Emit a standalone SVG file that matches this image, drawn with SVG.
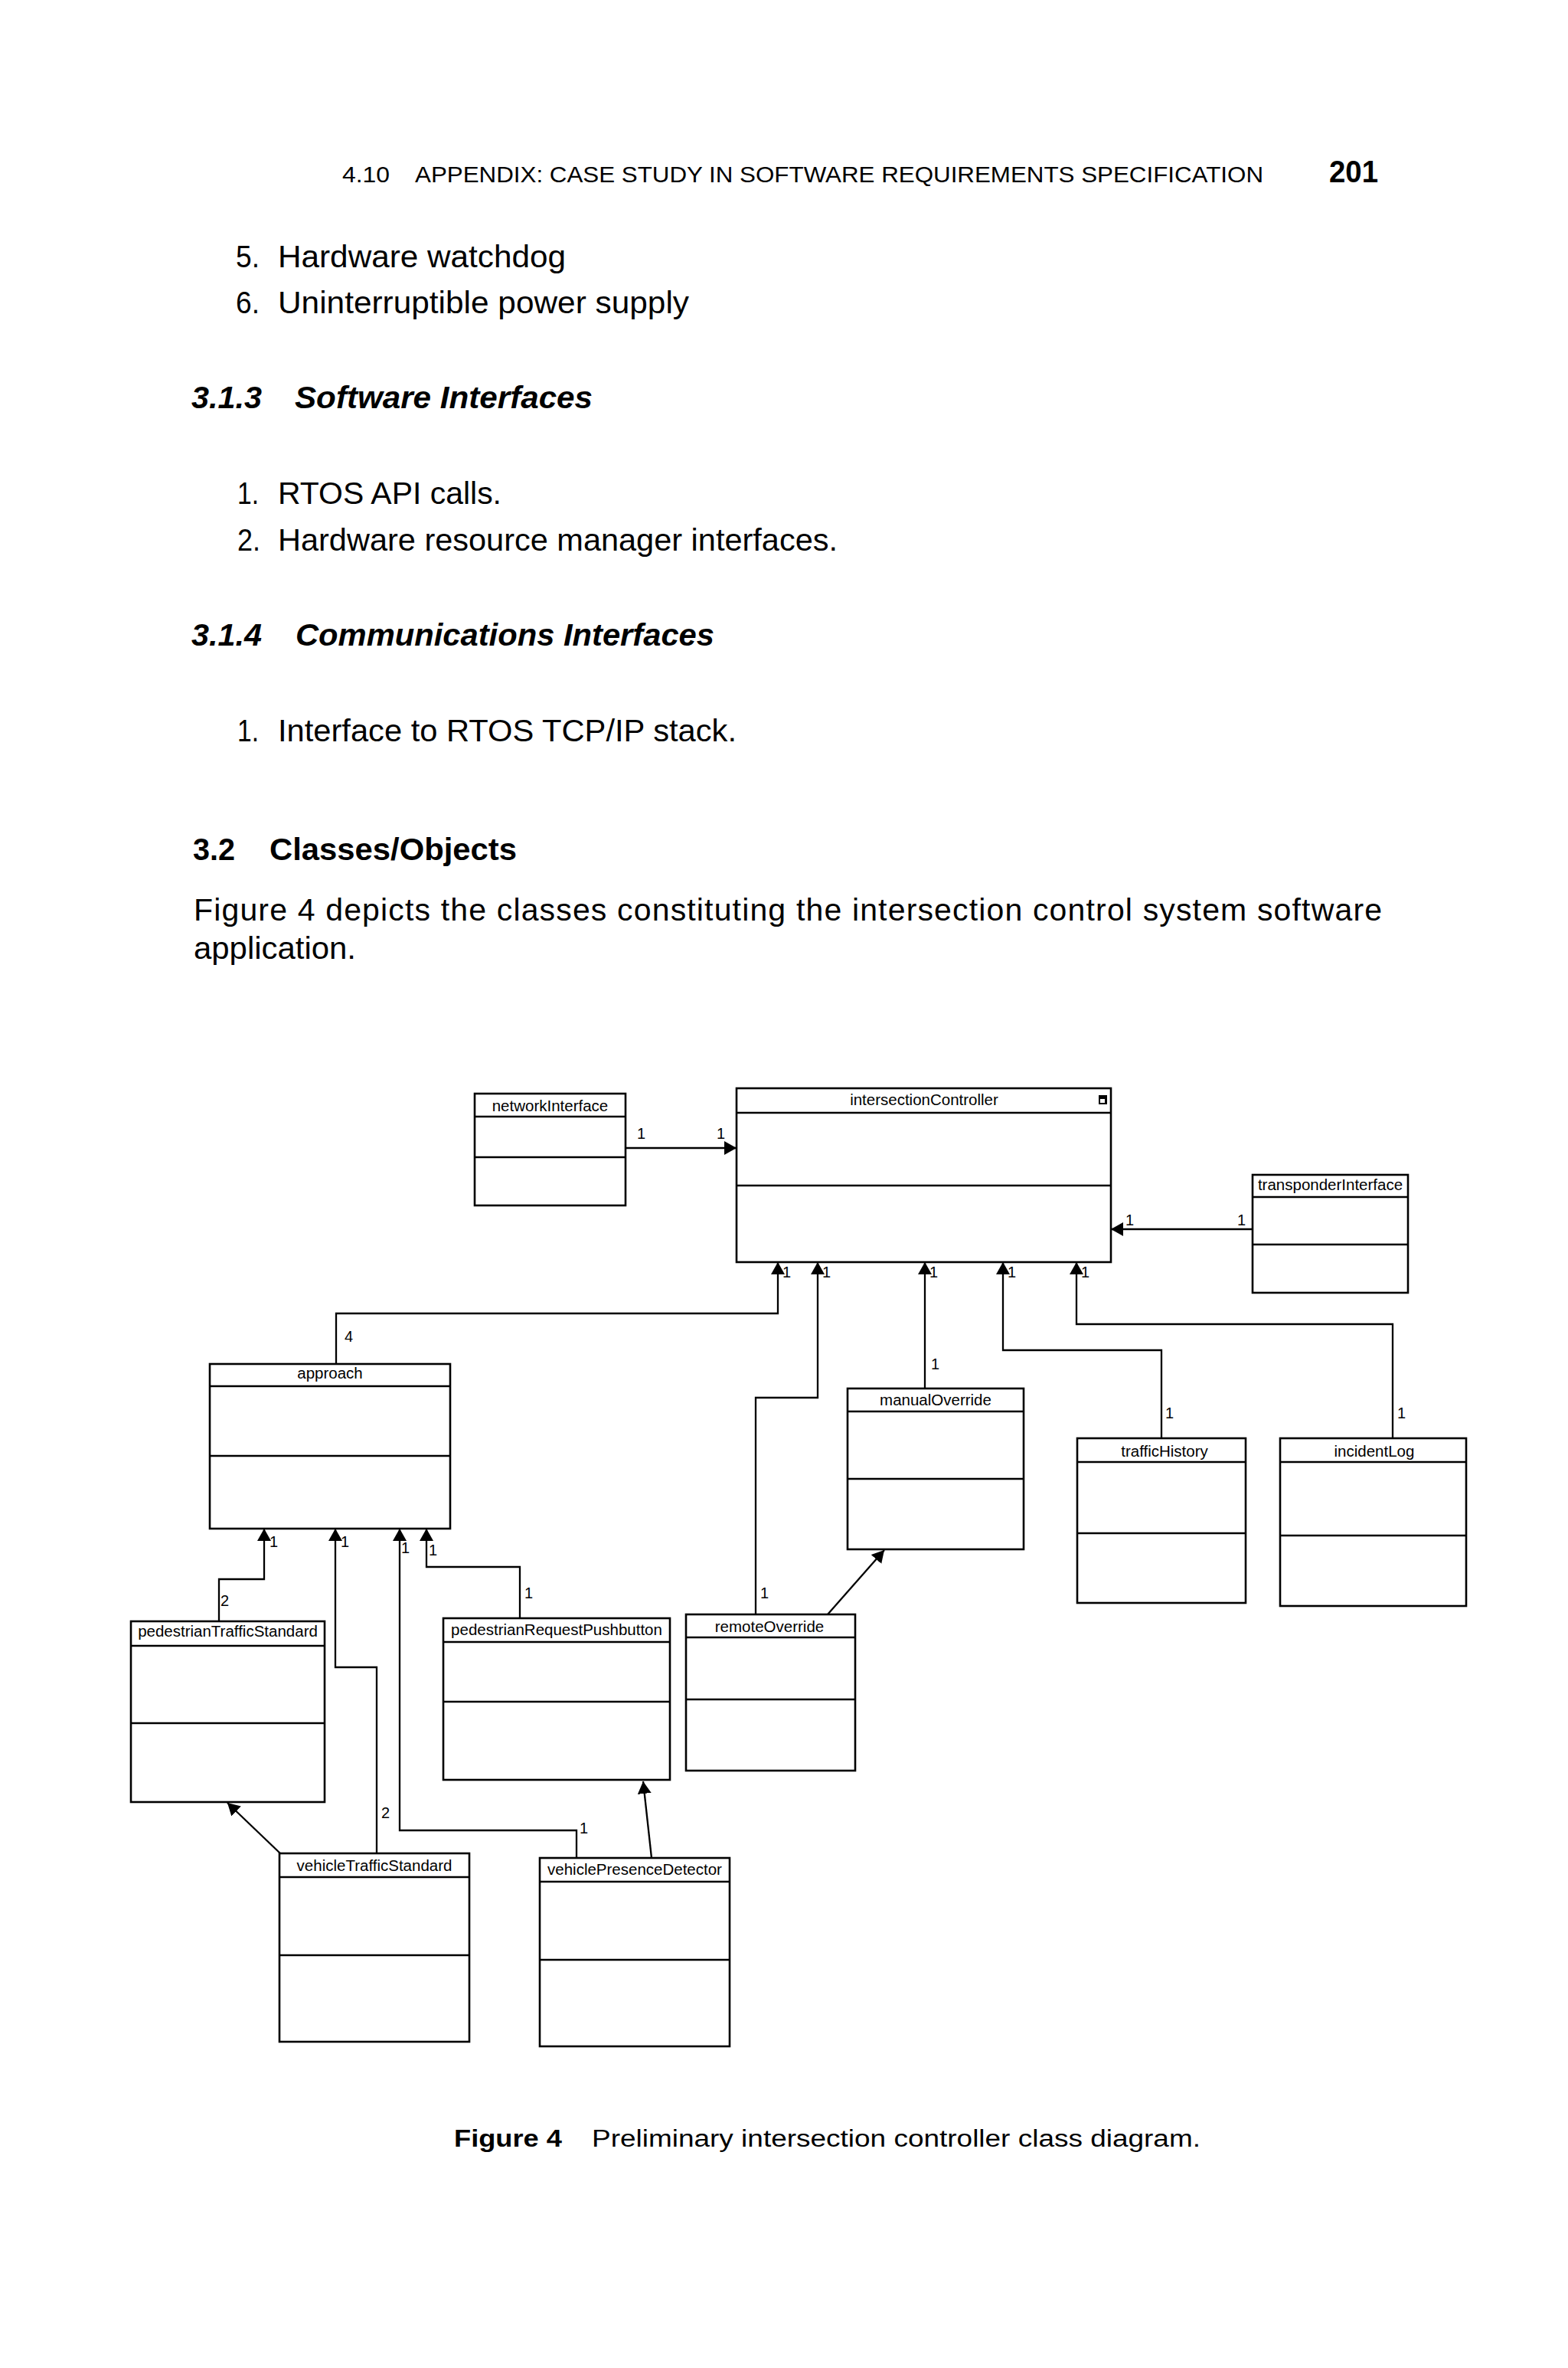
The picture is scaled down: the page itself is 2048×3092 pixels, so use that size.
<svg xmlns="http://www.w3.org/2000/svg" width="2048" height="3092" viewBox="0 0 2048 3092">
<style>
text{font-family:"Liberation Sans",Arial,Helvetica,sans-serif;fill:#000}
.box{fill:#fff;stroke:#000;stroke-width:2.6}
.div{stroke:#000;stroke-width:2.6}
.cn{font-size:20.5px;text-anchor:middle}
.m{font-size:20px}
.conn path{fill:none;stroke:#000;stroke-width:2.3}
.body{font-size:41px}
.hd{font-size:40px;font-weight:bold;font-style:italic}
.hb{font-size:40px;font-weight:bold}
.rh{font-size:30px}
.pg{font-size:40px;font-weight:bold}
.cap{font-size:31px}
</style>
<defs>
<marker id="arr" markerUnits="userSpaceOnUse" markerWidth="18" markerHeight="20" refX="16" refY="9" orient="auto">
<path d="M0,0 L16,9 L0,18 Z" fill="#000"/>
</marker>
</defs>
<rect width="2048" height="3092" fill="#fff"/>

<g id="page-text">
<text class="rh" x="447" y="238" textLength="62" lengthAdjust="spacingAndGlyphs">4.10</text>
<text class="rh" x="542" y="238" textLength="1108" lengthAdjust="spacingAndGlyphs">APPENDIX: CASE STUDY IN SOFTWARE REQUIREMENTS SPECIFICATION</text>
<text class="pg" x="1736" y="238" textLength="64" lengthAdjust="spacingAndGlyphs">201</text>

<text class="body" x="308" y="349" textLength="31" lengthAdjust="spacingAndGlyphs">5.</text>
<text class="body" x="363" y="349" textLength="376" lengthAdjust="spacingAndGlyphs">Hardware watchdog</text>
<text class="body" x="308" y="409" textLength="31" lengthAdjust="spacingAndGlyphs">6.</text>
<text class="body" x="363" y="409" textLength="537" lengthAdjust="spacingAndGlyphs">Uninterruptible power supply</text>

<text class="hd" x="250" y="533" textLength="92" lengthAdjust="spacingAndGlyphs">3.1.3</text>
<text class="hd" x="385" y="533" textLength="389" lengthAdjust="spacingAndGlyphs">Software Interfaces</text>

<text class="body" x="310" y="658" textLength="28" lengthAdjust="spacingAndGlyphs">1.</text>
<text class="body" x="363" y="658" textLength="292" lengthAdjust="spacingAndGlyphs">RTOS API calls.</text>
<text class="body" x="310" y="719" textLength="30" lengthAdjust="spacingAndGlyphs">2.</text>
<text class="body" x="363" y="719" textLength="731" lengthAdjust="spacingAndGlyphs">Hardware resource manager interfaces.</text>

<text class="hd" x="250" y="843" textLength="92" lengthAdjust="spacingAndGlyphs">3.1.4</text>
<text class="hd" x="386" y="843" textLength="547" lengthAdjust="spacingAndGlyphs">Communications Interfaces</text>

<text class="body" x="310" y="968" textLength="28" lengthAdjust="spacingAndGlyphs">1.</text>
<text class="body" x="363" y="968" textLength="599" lengthAdjust="spacingAndGlyphs">Interface to RTOS TCP/IP stack.</text>

<text class="hb" x="252" y="1123" textLength="55" lengthAdjust="spacingAndGlyphs">3.2</text>
<text class="hb" x="352" y="1123" textLength="323" lengthAdjust="spacingAndGlyphs">Classes/Objects</text>

<text class="body" x="253" y="1202" textLength="1552">Figure 4 depicts the classes constituting the intersection control system software</text>
<text class="body" x="253" y="1252" textLength="212" lengthAdjust="spacingAndGlyphs">application.</text>

<text class="cap" x="593" y="2803" font-weight="bold" textLength="141" lengthAdjust="spacingAndGlyphs">Figure 4</text>
<text class="cap" x="773" y="2803" textLength="795" lengthAdjust="spacingAndGlyphs">Preliminary intersection controller class diagram.</text>
</g>

<g id="connectors" class="conn">
<path d="M817,1499 L962,1499" marker-end="url(#arr)"/>
<path d="M1636,1605 L1451,1605" marker-end="url(#arr)"/>
<path d="M439,1781 L439,1715 L1016,1715 L1016,1648" marker-end="url(#arr)"/>
<path d="M987,2108 L987,1825 L1068,1825 L1068,1648" marker-end="url(#arr)"/>
<path d="M1208,1813 L1208,1648" marker-end="url(#arr)"/>
<path d="M1517,1878 L1517,1763 L1310,1763 L1310,1648" marker-end="url(#arr)"/>
<path d="M1819,1878 L1819,1729 L1406,1729 L1406,1648" marker-end="url(#arr)"/>
<path d="M286,2117 L286,2062 L345,2062 L345,1996" marker-end="url(#arr)"/>
<path d="M492,2420 L492,2177 L438,2177 L438,1996" marker-end="url(#arr)"/>
<path d="M753,2426 L753,2390 L522,2390 L522,1996" marker-end="url(#arr)"/>
<path d="M679,2113 L679,2046 L557,2046 L557,1996" marker-end="url(#arr)"/>
<path d="M1081,2108 L1155,2024" marker-end="url(#arr)"/>
<path d="M366,2420 L297,2354" marker-end="url(#arr)"/>
<path d="M851,2426 L840,2326" marker-end="url(#arr)"/>
</g>

<g id="multiplicities">
<text class="m" x="832" y="1487">1</text>
<text class="m" x="936" y="1487">1</text>
<text class="m" x="1470" y="1600">1</text>
<text class="m" x="1616" y="1600">1</text>
<text class="m" x="1022" y="1668">1</text>
<text class="m" x="1074" y="1668">1</text>
<text class="m" x="1214" y="1668">1</text>
<text class="m" x="1316" y="1668">1</text>
<text class="m" x="1412" y="1668">1</text>
<text class="m" x="450" y="1752">4</text>
<text class="m" x="1216" y="1788">1</text>
<text class="m" x="1522" y="1852">1</text>
<text class="m" x="1825" y="1852">1</text>
<text class="m" x="352" y="2020">1</text>
<text class="m" x="445" y="2020">1</text>
<text class="m" x="524" y="2028">1</text>
<text class="m" x="560" y="2031">1</text>
<text class="m" x="288" y="2097">2</text>
<text class="m" x="685" y="2087">1</text>
<text class="m" x="993" y="2087">1</text>
<text class="m" x="498" y="2374">2</text>
<text class="m" x="757" y="2394">1</text>
</g>

<g id="networkInterface">
<rect class="box" x="620" y="1428" width="197" height="146"/>
<line class="div" x1="620" y1="1458" x2="817" y2="1458"/>
<line class="div" x1="620" y1="1511" x2="817" y2="1511"/>
<text class="cn" x="718.5" y="1451">networkInterface</text>
</g>

<g id="intersectionController">
<rect class="box" x="962" y="1421" width="489" height="227"/>
<line class="div" x1="962" y1="1453" x2="1451" y2="1453"/>
<line class="div" x1="962" y1="1548" x2="1451" y2="1548"/>
<text class="cn" x="1207" y="1443">intersectionController</text>
<rect x="1435" y="1430" width="11" height="12" fill="#000"/>
<rect x="1437" y="1435" width="6" height="5" fill="#fff"/>
</g>

<g id="transponderInterface">
<rect class="box" x="1636" y="1534" width="203" height="154"/>
<line class="div" x1="1636" y1="1563" x2="1839" y2="1563"/>
<line class="div" x1="1636" y1="1625" x2="1839" y2="1625"/>
<text class="cn" x="1737.5" y="1554">transponderInterface</text>
</g>

<g id="approach">
<rect class="box" x="274" y="1781" width="314" height="215"/>
<line class="div" x1="274" y1="1810" x2="588" y2="1810"/>
<line class="div" x1="274" y1="1901" x2="588" y2="1901"/>
<text class="cn" x="431" y="1800">approach</text>
</g>

<g id="manualOverride">
<rect class="box" x="1107" y="1813" width="230" height="210"/>
<line class="div" x1="1107" y1="1843" x2="1337" y2="1843"/>
<line class="div" x1="1107" y1="1931" x2="1337" y2="1931"/>
<text class="cn" x="1222" y="1835">manualOverride</text>
</g>

<g id="trafficHistory">
<rect class="box" x="1407" y="1878" width="220" height="215"/>
<line class="div" x1="1407" y1="1909" x2="1627" y2="1909"/>
<line class="div" x1="1407" y1="2002" x2="1627" y2="2002"/>
<text class="cn" x="1521" y="1902">trafficHistory</text>
</g>

<g id="incidentLog">
<rect class="box" x="1672" y="1878" width="243" height="219"/>
<line class="div" x1="1672" y1="1909" x2="1915" y2="1909"/>
<line class="div" x1="1672" y1="2005" x2="1915" y2="2005"/>
<text class="cn" x="1795" y="1902">incidentLog</text>
</g>

<g id="pedestrianTrafficStandard">
<rect class="box" x="171" y="2117" width="253" height="236"/>
<line class="div" x1="171" y1="2149" x2="424" y2="2149"/>
<line class="div" x1="171" y1="2250" x2="424" y2="2250"/>
<text class="cn" x="297.5" y="2137">pedestrianTrafficStandard</text>
</g>

<g id="pedestrianRequestPushbutton">
<rect class="box" x="579" y="2113" width="296" height="211"/>
<line class="div" x1="579" y1="2144" x2="875" y2="2144"/>
<line class="div" x1="579" y1="2222" x2="875" y2="2222"/>
<text class="cn" x="727" y="2135">pedestrianRequestPushbutton</text>
</g>

<g id="remoteOverride">
<rect class="box" x="896" y="2108" width="221" height="204"/>
<line class="div" x1="896" y1="2138" x2="1117" y2="2138"/>
<line class="div" x1="896" y1="2219" x2="1117" y2="2219"/>
<text class="cn" x="1005" y="2131">remoteOverride</text>
</g>

<g id="vehicleTrafficStandard">
<rect class="box" x="365" y="2420" width="248" height="246"/>
<line class="div" x1="365" y1="2451" x2="613" y2="2451"/>
<line class="div" x1="365" y1="2553" x2="613" y2="2553"/>
<text class="cn" x="489" y="2443">vehicleTrafficStandard</text>
</g>

<g id="vehiclePresenceDetector">
<rect class="box" x="705" y="2426" width="248" height="246"/>
<line class="div" x1="705" y1="2457" x2="953" y2="2457"/>
<line class="div" x1="705" y1="2559" x2="953" y2="2559"/>
<text class="cn" x="829" y="2448">vehiclePresenceDetector</text>
</g>
</svg>
